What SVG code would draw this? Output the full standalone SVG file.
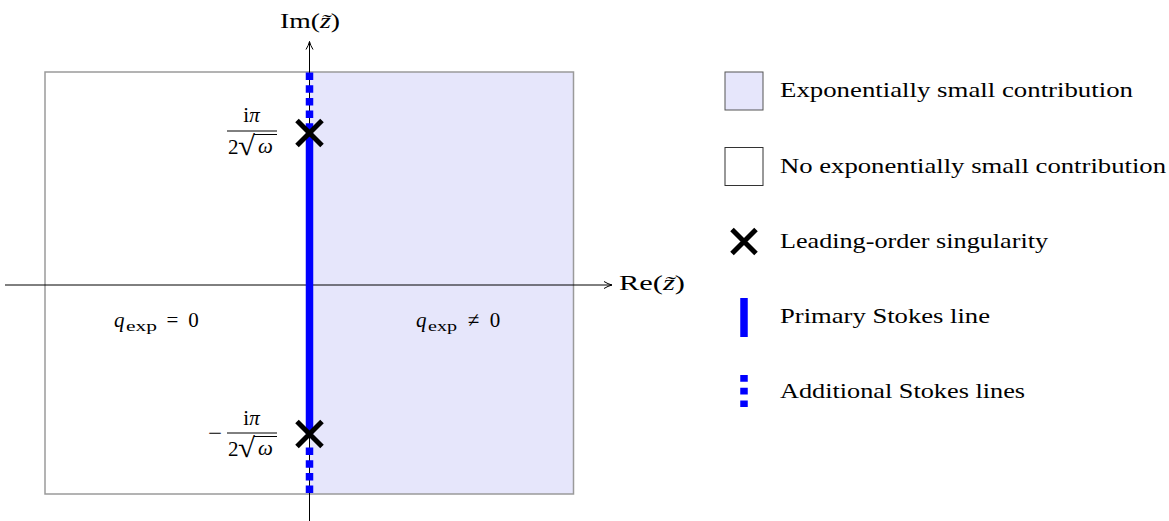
<svg xmlns="http://www.w3.org/2000/svg" width="1169" height="521" viewBox="0 0 1169 521">
<style>
text{font-family:"Liberation Serif","DejaVu Serif",serif;font-size:21px;fill:#000}
.it{font-style:italic}
.sub{font-size:14px}
.cross{stroke:#000;stroke-width:5;fill:none}
.stokes{stroke:#0000ff;stroke-width:7.5;fill:none}
.dash{stroke:#0000ff;stroke-width:7.5;fill:none;stroke-dasharray:7.5 5.2}
.axis{stroke:#000;stroke-width:1;fill:none}
.bar{stroke:#000;stroke-width:1}
.rad{font-size:28px}
</style>
<defs>
<marker id="arr" viewBox="0 0 10 10" refX="9" refY="5" markerWidth="10" markerHeight="10" markerUnits="userSpaceOnUse" orient="auto">
<path d="M1,1.5 Q5,4 9,5 Q5,6 1,8.5" fill="none" stroke="#000" stroke-width="1"/>
</marker>
</defs>
<g id="regions">
<rect x="309.5" y="72" width="264" height="422" fill="#e6e6fb"/>
<rect x="45" y="72" width="528.5" height="422" fill="none" stroke="#9a9a9a" stroke-width="1.5"/>
</g>
<g id="connectors">
<line class="axis" x1="5" y1="285" x2="612" y2="285" marker-end="url(#arr)"/>
<line class="axis" x1="309.5" y1="521" x2="309.5" y2="41.5" marker-end="url(#arr)"/>
<line class="stokes" x1="309.5" y1="133" x2="309.5" y2="434"/>
<line class="dash" x1="309.5" y1="72.5" x2="309.5" y2="133"/>
<line class="dash" x1="309.5" y1="447.5" x2="309.5" y2="494"/>
</g>
<g id="axis-labels">
<text x="280" y="28" textLength="60" lengthAdjust="spacingAndGlyphs">Im(<tspan class="it">z̃</tspan>)</text>
<text x="619" y="290" textLength="66" lengthAdjust="spacingAndGlyphs">Re(<tspan class="it">z̃</tspan>)</text>
</g>
<g id="sing-upper">
<path class="cross" d="M297,120.5 L322,145.5 M322,120.5 L297,145.5"/>
<text x="251.5" y="122" text-anchor="middle">i<tspan class="it">π</tspan></text>
<line class="bar" x1="227" y1="131" x2="277" y2="131"/>
<text x="228" y="154">2</text>
<text x="238" y="155" class="rad" textLength="17" lengthAdjust="spacingAndGlyphs">√</text>
<line class="bar" x1="254" y1="134.5" x2="277" y2="134.5"/>
<text x="258" y="153" class="it">ω</text>
</g>
<g id="sing-lower">
<path class="cross" d="M297,421.5 L322,446.5 M322,421.5 L297,446.5"/>
<text x="208" y="440" textLength="14" lengthAdjust="spacingAndGlyphs">−</text>
<text x="251.5" y="425" text-anchor="middle">i<tspan class="it">π</tspan></text>
<line class="bar" x1="227" y1="433" x2="277" y2="433"/>
<text x="228" y="456">2</text>
<text x="238" y="457" class="rad" textLength="17" lengthAdjust="spacingAndGlyphs">√</text>
<line class="bar" x1="254" y1="436.5" x2="277" y2="436.5"/>
<text x="258" y="455" class="it">ω</text>
</g>
<g id="region-labels">
<text x="114" y="327" class="it">q</text>
<text x="126" y="331" class="sub" textLength="31" lengthAdjust="spacingAndGlyphs">exp</text>
<text x="172.5" y="327" text-anchor="middle">=</text>
<text x="193.5" y="327" text-anchor="middle">0</text>
<text x="416" y="327" class="it">q</text>
<text x="428" y="331" class="sub" textLength="29" lengthAdjust="spacingAndGlyphs">exp</text>
<text x="473.5" y="327" text-anchor="middle">≠</text>
<text x="495" y="327" text-anchor="middle">0</text>
</g>
<g id="legend-exp">
<rect x="725" y="72" width="38" height="38" fill="#e6e6fb" stroke="#555" stroke-width="1"/>
<text x="780" y="97" textLength="353" lengthAdjust="spacingAndGlyphs">Exponentially small contribution</text>
</g>
<g id="legend-noexp">
<rect x="725" y="147.5" width="38" height="38" fill="#fff" stroke="#333" stroke-width="1"/>
<text x="780" y="173" textLength="386" lengthAdjust="spacingAndGlyphs">No exponentially small contribution</text>
</g>
<g id="legend-sing">
<path class="cross" d="M732,229.5 L756,253.5 M756,229.5 L732,253.5"/>
<text x="780" y="248" textLength="268" lengthAdjust="spacingAndGlyphs">Leading-order singularity</text>
</g>
<g id="legend-primary">
<line class="stokes" x1="744" y1="298" x2="744" y2="337"/>
<text x="780" y="323" textLength="210" lengthAdjust="spacingAndGlyphs">Primary Stokes line</text>
</g>
<g id="legend-additional">
<line class="stokes" x1="744" y1="375" x2="744" y2="407" style="stroke-dasharray:6.7 6"/>
<text x="780" y="398" textLength="245" lengthAdjust="spacingAndGlyphs">Additional Stokes lines</text>
</g>
</svg>
